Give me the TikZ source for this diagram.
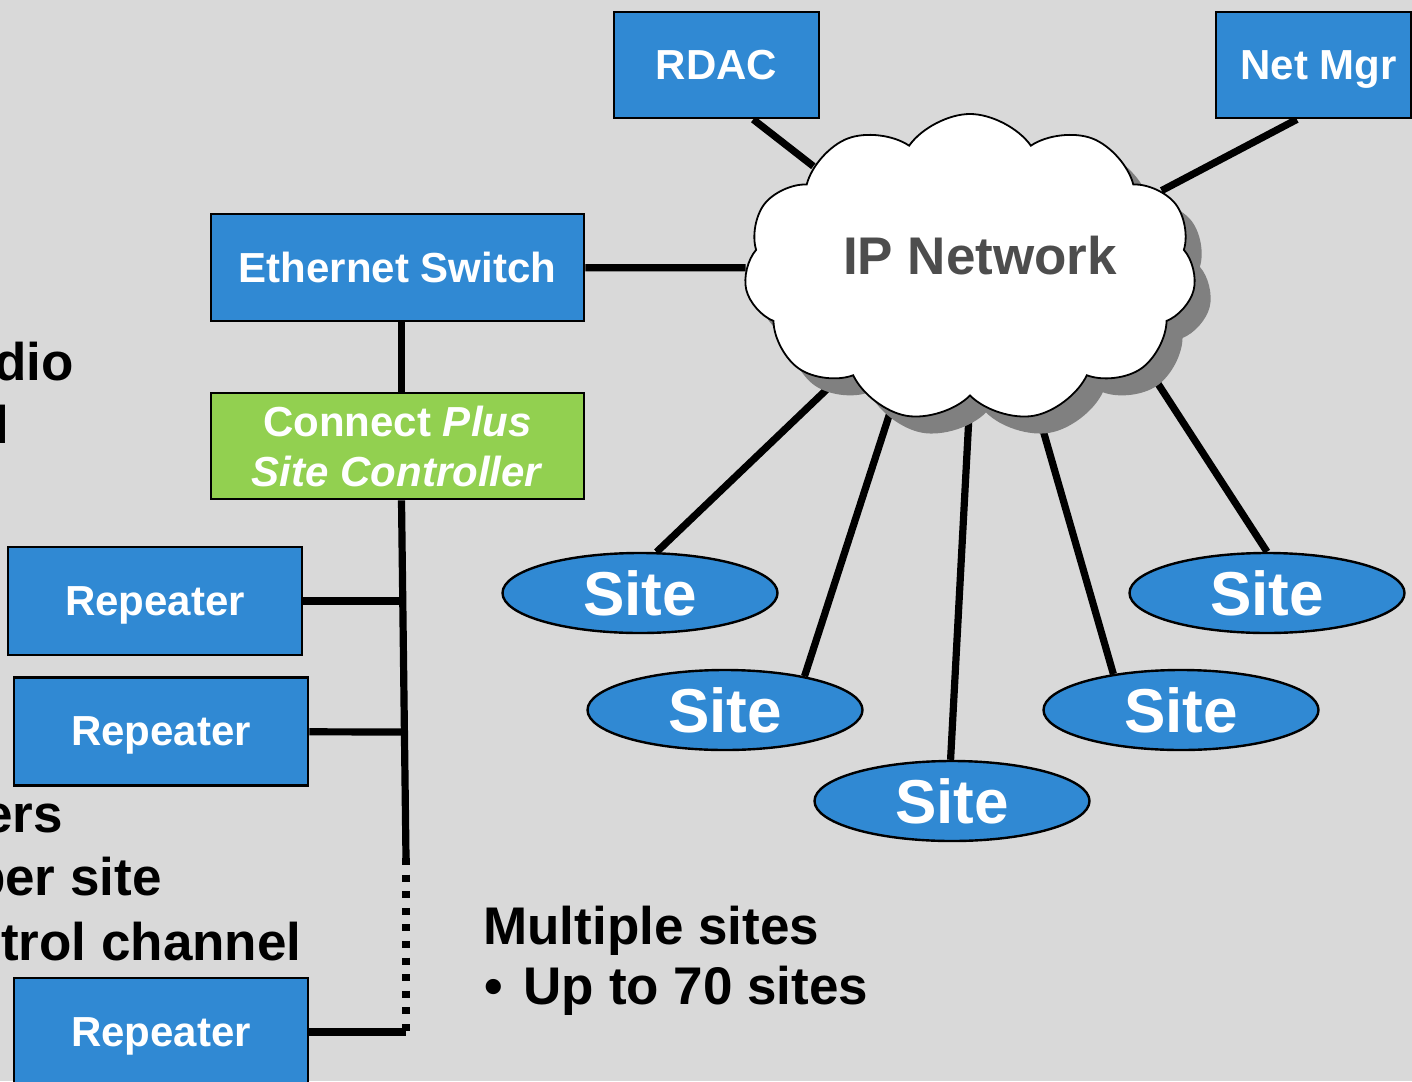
\documentclass[tikz,border=0pt]{standalone}
\usepackage{fontspec}
\setmainfont{Liberation Sans}
\usetikzlibrary{shapes.geometric,shapes.symbols,shadows}
\definecolor{slidegray}{HTML}{D9D9D9}
\definecolor{boxblue}{HTML}{3089D3}
\definecolor{ctrlgreen}{HTML}{92D050}
\definecolor{cloudshade}{HTML}{808080}
\definecolor{cloudtext}{HTML}{4D4D4D}
\pgfdeclarelayer{wires}
\pgfsetlayers{wires,main}
\tikzset{
	box/.style={draw, line width=1.4pt, fill=boxblue, text=white, inner sep=0pt, text depth=0pt, font=\bfseries\fontsize{21pt}{25pt}\selectfont},
	repeater/.style={box, minimum width=147pt, minimum height=54pt},
	sitebubble/.style={ellipse, draw, line width=1.2pt, fill=boxblue, text=white, inner sep=0pt, minimum width=137.5pt, minimum height=40pt, font=\bfseries\fontsize{31pt}{36pt}\selectfont},
	netcloud/.style={cloud, cloud puffs=11, cloud puff arc=110, aspect=1.48, draw, line width=0.9pt, fill=white, inner sep=0pt, minimum width=226pt, minimum height=154pt, drop shadow={shadow xshift=8pt, shadow yshift=-8.5pt, fill=cloudshade, opacity=1}},
	link/.style={line width=3.6pt},
	dotbus/.style={line width=3.6pt, dash pattern=on 3.5pt off 4.8pt},
	slidetext/.style={inner sep=0pt, font=\bfseries\fontsize{26.5pt}{30pt}\selectfont}
}
\begin{document}
\begin{tikzpicture}[x=0.5pt, y=-0.5pt]
	\useasboundingbox (0,0) rectangle (1412,1081);
	\clip (0,0) rectangle (1412,1081);
	\node [box, minimum width=102.5pt, minimum height=53pt] (rdac) at (716.5,65) {RDAC};
	\node [box, minimum width=97.5pt, minimum height=53pt] (netmgr) at (1313.5,65) {\hspace*{5pt}Net Mgr};
	\node [box, minimum width=186.5pt, minimum height=53.5pt] (ethsw) at (397.5,267.5) {Ethernet Switch};
	\node [box, fill=ctrlgreen, minimum width=186.5pt, minimum height=53pt, align=center] (ctrl) at (397.5,446) {Connect \textit{Plus}\\\textit{Site Controller}};
	\node [repeater] (rep1) at (155,601) {Repeater};
	\node [repeater] (rep2) at (161,731.5) {Repeater};
	\node [repeater] (rep3) at (161,1032) {Repeater};
	\node [netcloud] (ip) at (970,268) {};
	\node [inner sep=0pt, text=cloudtext, font=\bfseries\fontsize{26.5pt}{30pt}\selectfont] (iplabel) at (980,256) {IP Network};
	\node [sitebubble] (site1) at (640,593) {Site};
	\node [sitebubble] (site2) at (725,710) {Site};
	\node [sitebubble] (site3) at (952,801) {Site};
	\node [sitebubble] (site4) at (1181,710) {Site};
	\node [sitebubble] (site5) at (1267,593) {Site};
	\coordinate (bus1) at (403.5,601);
	\coordinate (bus2) at (405,732);
	\coordinate (bus3) at (406,858);
	\coordinate (bus4) at (406,1032);
	\node [slidetext, anchor=base east] (txtdio) at (74,380) {dio};
	\node [slidetext, anchor=base west] (txtl) at (-6,443) {l};
	\node [slidetext, anchor=base east] (txters) at (63,832) {ers};
	\node [slidetext, anchor=base east] (txtper) at (162,895) {per site};
	\node [slidetext, anchor=base east] (txttrol) at (302,960) {trol channel};
	\node [slidetext, anchor=base west] (multi) at (483,944) {Multiple sites};
	\node [slidetext, anchor=base west] (upto) at (484,1004) {•\hspace{3pt} Up to 70 sites};
	\begin{pgfonlayer}{wires}
		\fill [slidegray] (0,0) rectangle (1412,1081);
		\draw [link] (rdac.304) -- (ip.147);
		\draw [link] (netmgr.253) -- (ip.22);
		\draw [link] (ethsw) -- (ip);
		\draw [link] ([xshift=2pt]ethsw.south) -- ([xshift=2pt]ctrl.north);
		\draw [link] ([xshift=2pt]ctrl.south) -- (bus3);
		\draw [dotbus] (bus3) -- (bus4);
		\draw [link] (rep1) -- (bus1);
		\draw [link] (rep2) -- (bus2);
		\draw [link] (rep3) -- (bus4);
		\draw [link] (site1.68) -- (ip.220);
		\draw [link] (site2.23) -- (ip.241);
		\draw [link] (site3.92) -- (ip.270);
		\draw [link] (site4.152) -- (ip.295);
		\draw [link] (site5.north) -- (ip.331);
	\end{pgfonlayer}
\end{tikzpicture}
\end{document}
